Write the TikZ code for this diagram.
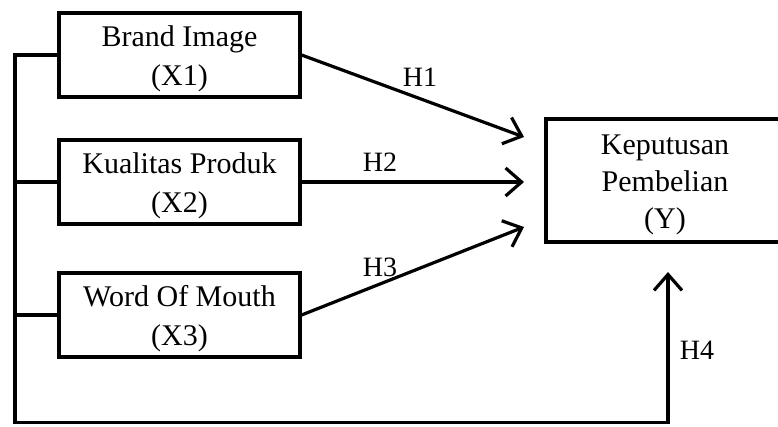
\documentclass[tikz,border=0pt]{standalone}
\usepackage{fontspec}
\setmainfont{Liberation Serif}
\usetikzlibrary{arrows.meta}
\newcommand{\topstrut}{\rule{0pt}{29pt}}
\begin{document}
\begin{tikzpicture}[>={Straight Barb[length=16pt,width=28pt,line width=3.2pt]},x=1pt,y=-1pt,line width=3.2pt,
                var/.style={draw, minimum width=241pt, minimum height=84pt, align=center, font=\fontsize{30}{39}\selectfont},
                hyp/.style={font=\fontsize{28}{30}\selectfont}]
                \useasboundingbox (0,0) rectangle (778,426);
                \node[var] (x1) at (179.5,55) {\topstrut Brand Image\\(X1)};
                \node[var] (x2) at (179.5,182) {\topstrut Kualitas Produk\\(X2)};
                \node[var] (x3) at (179.5,315) {\topstrut Word Of Mouth\\(X3)};
                \node[var, minimum width=238pt, minimum height=123pt, font=\fontsize{30}{37}\selectfont] (y) at (665,180.5) {\topstrut Keputusan\\Pembelian\\(Y)};
                \coordinate (corner) at (15,422.5);
                \coordinate (t1) at (524,137);
                \coordinate (t2) at (524,182);
                \coordinate (t3) at (524,227);
                \coordinate (t4) at (668,272);
                \draw[->] (x1.west) -| (corner) -| (t4);
                \draw (x2.west) -- (x2.west -| corner);
                \draw (x3.west) -- (x3.west -| corner);
                \draw[->] (x1.east) -- (t1);
                \draw[->] (x2.east) -- (t2);
                \draw[->] (x3.east) -- (t3);
                \node[hyp] (h1) at (420,77) {H1};
                \node[hyp] (h2) at (380,162) {H2};
                \node[hyp] (h3) at (380,267) {H3};
                \node[hyp] (h4) at (697,350) {H4};
            \end{tikzpicture}
\end{document}
